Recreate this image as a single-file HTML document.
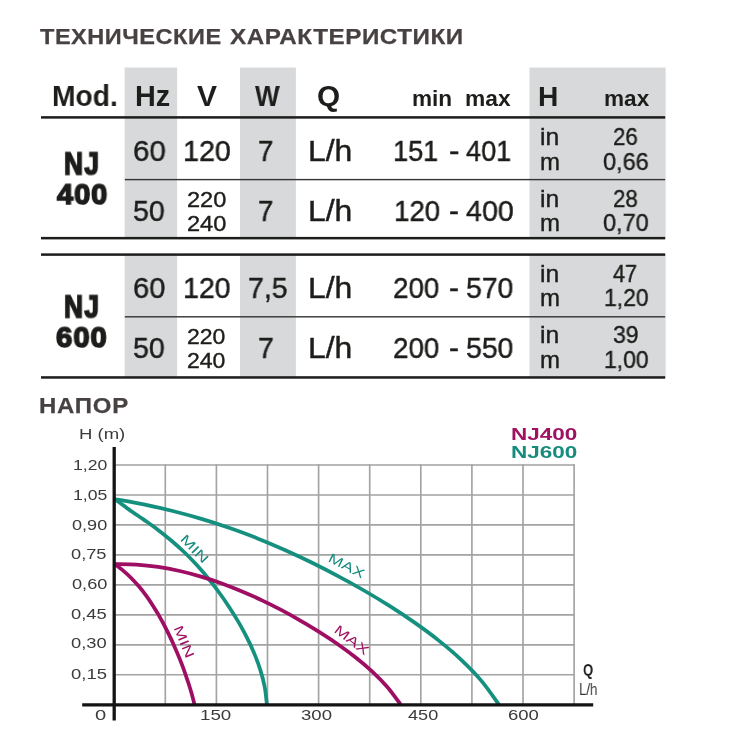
<!DOCTYPE html>
<html lang="ru">
<head>
<meta charset="utf-8">
<title>Технические характеристики</title>
<style>
html,body{margin:0;padding:0;background:#fff;}
body{width:742px;height:742px;position:relative;overflow:hidden;font-family:"Liberation Sans",sans-serif;color:#1d1d1b;}
.t{will-change:transform;position:absolute;line-height:0;white-space:nowrap;transform-origin:0 0;}
.h1{color:#474142;font-weight:bold;-webkit-text-stroke:0.25px #474142;}
.th{font-weight:bold;}
.m{font-weight:bold;-webkit-text-stroke:1.6px #1d1d1b;}
.d{-webkit-text-stroke:0.45px #1d1d1b;}
.u,.s{-webkit-text-stroke:0.4px #1d1d1b;}
.c{color:#3b3b3b;}
.k{font-weight:bold;}
.mg{color:#9f1262;}
.tl{color:#168c7f;}
.q{font-weight:bold;color:#1d1d1b;}
.l{color:#333;}
svg{position:absolute;left:0;top:0;will-change:transform;}
</style>
</head>
<body>

<!-- background graphics: table shading/rules + chart -->
<svg width="742" height="742" viewBox="0 0 742 742" font-family="Liberation Sans, sans-serif">
  <!-- table: grey columns and rules -->
  <g fill="#d8d9db">
    <rect x="124.6" y="67.5" width="52.5" height="170.5"/><rect x="240" y="67.5" width="55.9" height="170.5"/><rect x="529.5" y="67.5" width="136.1" height="170.5"/>
    <rect x="124.6" y="254.5" width="52.5" height="123"/><rect x="240" y="254.5" width="55.9" height="123"/><rect x="529.5" y="254.5" width="136.1" height="123"/>
  </g>
  <g fill="#1d1d1b">
    <rect x="41" y="116.15" width="624.2" height="2.5"/>
    <rect x="41" y="236.9" width="624.2" height="2.5"/>
    <rect x="41" y="253.35" width="624.2" height="2.5"/>
    <rect x="41" y="376.2" width="624.2" height="2.5"/>
    <rect x="124.8" y="178.9" width="540.4" height="1.4" fill="#333"/>
    <rect x="124.8" y="316.1" width="540.4" height="1.4" fill="#333"/>
  </g>
  <!-- chart -->
  <g stroke="#a3a3a3" stroke-width="1.65" fill="none">
    <path d="M114 465.0H574.9M114 495.0H574.9M114 524.9H574.9M114 554.9H574.9M114 584.8H574.9M114 614.8H574.9M114 644.8H574.9M114 674.7H574.9"/>
    <path d="M165.3 464.2V705M216.4 464.2V705M267.5 464.2V705M318.6 464.2V705M369.7 464.2V705M420.8 464.2V705M471.9 464.2V705M523.0 464.2V705M574.1 464.2V705"/>
  </g>
  <g fill="none" stroke-width="3.75" stroke-linecap="butt">
    <path stroke="#15907f" d="M114.6 499.0C119.4 499.9 134.0 502.4 143.7 504.4C153.3 506.4 163.1 508.6 172.7 511.0C182.3 513.4 191.9 516.0 201.4 518.9C210.9 521.7 220.4 524.8 229.7 528.1C239.1 531.3 248.3 534.8 257.5 538.4C266.7 542.1 275.8 545.9 284.8 550.0C293.8 554.0 302.8 558.2 311.6 562.5C320.5 566.9 329.3 571.4 338.0 576.1C346.8 580.7 355.4 585.5 364.0 590.5C372.6 595.5 381.1 600.6 389.5 605.9C397.9 611.2 406.2 616.7 414.3 622.4C422.4 628.1 430.5 633.9 438.2 640.1C445.9 646.2 453.5 652.5 460.7 659.3C467.9 666.1 474.9 673.0 481.2 680.6C487.6 688.1 496.0 700.5 498.9 704.5"/>
    <path stroke="#15907f" d="M114.6 499.0C117.0 500.7 124.0 506.0 128.8 509.4C133.6 512.9 138.5 516.0 143.4 519.4C148.2 522.8 153.0 526.1 157.7 529.7C162.4 533.2 167.0 536.9 171.5 540.7C176.0 544.5 180.3 548.4 184.6 552.5C188.8 556.6 192.9 560.8 196.8 565.1C200.8 569.5 204.6 573.9 208.3 578.5C212.1 583.0 215.6 587.7 219.1 592.5C222.6 597.2 225.9 602.1 229.1 607.0C232.3 611.9 235.4 616.9 238.4 621.9C241.3 627.0 244.2 632.2 246.8 637.4C249.5 642.6 252.0 648.0 254.2 653.4C256.5 658.8 258.6 664.3 260.3 669.9C262.1 675.6 263.6 681.3 264.7 687.0C265.8 692.8 266.5 701.6 266.9 704.5"/>
    <path stroke="#9e0e63" d="M114.6 564.1C118.2 564.2 129.1 564.1 136.4 564.6C143.6 565.1 151.0 565.9 158.2 566.9C165.4 568.0 172.6 569.4 179.8 571.0C186.9 572.6 194.0 574.5 201.0 576.6C208.0 578.6 214.9 580.9 221.8 583.4C228.6 585.9 235.4 588.6 242.1 591.4C248.8 594.2 255.5 597.2 262.0 600.4C268.6 603.5 275.1 606.8 281.6 610.2C288.0 613.6 294.4 617.1 300.7 620.8C307.1 624.4 313.3 628.2 319.5 632.1C325.7 636.0 331.8 640.0 337.8 644.2C343.8 648.4 349.7 652.7 355.4 657.3C361.1 661.8 366.7 666.5 372.0 671.4C377.4 676.4 382.5 681.5 387.3 687.0C392.1 692.6 398.4 701.6 400.6 704.5"/>
    <path stroke="#9e0e63" d="M114.6 564.1C116.1 565.2 120.6 568.4 123.4 570.8C126.2 573.1 128.9 575.6 131.4 578.2C134.0 580.8 136.4 583.5 138.8 586.3C141.1 589.0 143.4 591.9 145.6 594.9C147.7 597.8 149.8 600.8 151.8 603.9C153.8 606.9 155.7 610.1 157.6 613.2C159.4 616.4 161.2 619.6 163.0 622.8C164.7 626.1 166.4 629.3 168.0 632.6C169.6 635.9 171.2 639.2 172.7 642.5C174.2 645.9 175.7 649.2 177.1 652.6C178.5 655.9 179.9 659.3 181.2 662.7C182.5 666.1 183.8 669.5 185.0 673.0C186.2 676.4 187.4 679.8 188.5 683.3C189.6 686.8 190.7 690.3 191.7 693.8C192.7 697.3 194.0 702.7 194.5 704.5"/>
  </g>
  <path d="M114.2 447V720.5" stroke="#141414" stroke-width="3.3" fill="none"/>
  <path d="M82.2 704.8H593.2" stroke="#141414" stroke-width="3.2" fill="none"/>
  <g font-size="13.2">
    <text fill="#168c7f" transform="translate(179.4 539.8) rotate(45.7)" textLength="34.2" lengthAdjust="spacingAndGlyphs">MIN</text>
    <text fill="#168c7f" transform="translate(327.3 560.9) rotate(27.1)" textLength="38.8" lengthAdjust="spacingAndGlyphs">MAX</text>
    <text fill="#9f1262" transform="translate(173.5 627.7) rotate(67.7)" textLength="34" lengthAdjust="spacingAndGlyphs">MIN</text>
    <text fill="#9f1262" transform="translate(333.2 631.5) rotate(37.4)" textLength="39.8" lengthAdjust="spacingAndGlyphs">MAX</text>
  </g>
</svg>

<span class="t h1" style="left:39.9px;top:37px;font-size:22.4px;letter-spacing:0.5px;transform:scaleX(1.051)">ТЕХНИЧЕСКИЕ</span>
<span class="t h1" style="left:230.0px;top:37px;font-size:22.4px;letter-spacing:0.5px;transform:scaleX(1.081)">ХАРАКТЕРИСТИКИ</span>
<span class="t h1" style="left:38.7px;top:406px;font-size:22.2px;letter-spacing:0.7px;transform:scaleX(1.080)">НАПОР</span>

<!-- table text -->
<span class="t th" style="left:52.1px;top:96px;font-size:28.6px;transform:scaleX(0.987)">Mod.</span>
<span class="t th" style="left:134.7px;top:96px;font-size:28.6px;transform:scaleX(1.008)">Hz</span>
<span class="t th" style="left:196.7px;top:96px;font-size:28.6px;transform:scaleX(1.049)">V</span>
<span class="t th" style="left:255.1px;top:96px;font-size:28.6px;transform:scaleX(0.911)">W</span>
<span class="t th" style="left:317.4px;top:96px;font-size:28.6px;transform:scaleX(1.040)">Q</span>
<span class="t th" style="left:412.1px;top:99px;font-size:22.6px;transform:scaleX(1.000)">min</span>
<span class="t th" style="left:465.4px;top:99px;font-size:22.6px;transform:scaleX(1.008)">max</span>
<span class="t th" style="left:538.4px;top:96px;font-size:28.2px;transform:scaleX(0.985)">H</span>
<span class="t th" style="left:604.2px;top:99px;font-size:22.6px;transform:scaleX(0.990)">max</span>
<span class="t m" style="left:64.1px;top:164px;font-size:30px;letter-spacing:1.5px;transform-origin:0 11px;transform:scale(0.877,1.020)">NJ</span>
<span class="t m" style="left:56.6px;top:194px;font-size:30px;letter-spacing:1px;transform-origin:0 11px;transform:scale(0.968,0.985)">400</span>
<span class="t d" style="left:132.5px;top:151px;font-size:30px;transform:scaleX(0.982)">60</span>
<span class="t d" style="left:182.8px;top:151px;font-size:30px;transform:scaleX(0.957)">120</span>
<span class="t d" style="left:258.1px;top:151px;font-size:30px;transform:scaleX(0.919)">7</span>
<span class="t d" style="left:308.2px;top:151px;font-size:30px;transform:scaleX(1.063)">L/h</span>
<span class="t d" style="left:393.1px;top:151px;font-size:30px;transform:scaleX(0.904)">151</span>
<span class="t d" style="left:448.6px;top:151px;font-size:30px;transform:scaleX(1.050)">-</span>
<span class="t d" style="left:466.0px;top:151px;font-size:30px;transform:scaleX(0.905)">401</span>
<span class="t u" style="left:539.8px;top:137px;font-size:24px;transform:scaleX(1.028)">in</span>
<span class="t u" style="left:539.8px;top:162px;font-size:24px;transform:scaleX(0.989)">m</span>
<span class="t u" style="left:612.8px;top:137px;font-size:24px;transform:scaleX(0.932)">26</span>
<span class="t u" style="left:603.3px;top:162px;font-size:24px;transform:scaleX(0.981)">0,66</span>
<span class="t d" style="left:133.1px;top:211px;font-size:30px;transform:scaleX(0.949)">50</span>
<span class="t s" style="left:186.7px;top:199px;font-size:22.8px;transform:scaleX(1.034)">220</span>
<span class="t s" style="left:186.7px;top:223px;font-size:22.8px;transform:scaleX(1.034)">240</span>
<span class="t d" style="left:258.1px;top:211px;font-size:30px;transform:scaleX(0.919)">7</span>
<span class="t d" style="left:308.2px;top:211px;font-size:30px;transform:scaleX(1.063)">L/h</span>
<span class="t d" style="left:393.6px;top:211px;font-size:30px;transform:scaleX(0.923)">120</span>
<span class="t d" style="left:449.2px;top:211px;font-size:30px;transform:scaleX(1.000)">-</span>
<span class="t d" style="left:465.9px;top:211px;font-size:30px;transform:scaleX(0.957)">400</span>
<span class="t u" style="left:539.8px;top:199px;font-size:24px;transform:scaleX(1.028)">in</span>
<span class="t u" style="left:539.8px;top:223px;font-size:24px;transform:scaleX(0.989)">m</span>
<span class="t u" style="left:612.8px;top:199px;font-size:24px;transform:scaleX(0.932)">28</span>
<span class="t u" style="left:603.3px;top:223px;font-size:24px;transform:scaleX(0.981)">0,70</span>
<span class="t m" style="left:64.1px;top:307px;font-size:30px;letter-spacing:1.5px;transform-origin:0 11px;transform:scale(0.877,1.020)">NJ</span>
<span class="t m" style="left:56.2px;top:337px;font-size:30px;letter-spacing:1px;transform-origin:0 11px;transform:scale(0.977,0.985)">600</span>
<span class="t d" style="left:132.7px;top:288px;font-size:30px;transform:scaleX(0.970)">60</span>
<span class="t d" style="left:182.8px;top:288px;font-size:30px;transform:scaleX(0.952)">120</span>
<span class="t d" style="left:247.5px;top:288px;font-size:30px;transform:scaleX(0.949)">7,5</span>
<span class="t d" style="left:308.2px;top:288px;font-size:30px;transform:scaleX(1.063)">L/h</span>
<span class="t d" style="left:393.4px;top:288px;font-size:30px;transform:scaleX(0.927)">200</span>
<span class="t d" style="left:449.2px;top:288px;font-size:30px;transform:scaleX(1.000)">-</span>
<span class="t d" style="left:466.4px;top:288px;font-size:30px;transform:scaleX(0.947)">570</span>
<span class="t u" style="left:540.0px;top:274px;font-size:24px;transform:scaleX(1.028)">in</span>
<span class="t u" style="left:540.0px;top:298px;font-size:24px;transform:scaleX(0.989)">m</span>
<span class="t u" style="left:613.1px;top:274px;font-size:24px;transform:scaleX(0.902)">47</span>
<span class="t u" style="left:603.8px;top:298px;font-size:24px;transform:scaleX(0.957)">1,20</span>
<span class="t d" style="left:133.1px;top:348px;font-size:30px;transform:scaleX(0.949)">50</span>
<span class="t s" style="left:187.1px;top:336px;font-size:22.8px;transform:scaleX(1.010)">220</span>
<span class="t s" style="left:187.1px;top:360px;font-size:22.8px;transform:scaleX(1.010)">240</span>
<span class="t d" style="left:257.9px;top:348px;font-size:30px;transform:scaleX(0.947)">7</span>
<span class="t d" style="left:308.2px;top:348px;font-size:30px;transform:scaleX(1.063)">L/h</span>
<span class="t d" style="left:393.4px;top:348px;font-size:30px;transform:scaleX(0.927)">200</span>
<span class="t d" style="left:449.2px;top:348px;font-size:30px;transform:scaleX(1.000)">-</span>
<span class="t d" style="left:466.4px;top:348px;font-size:30px;transform:scaleX(0.947)">550</span>
<span class="t u" style="left:540.0px;top:335px;font-size:24px;transform:scaleX(1.028)">in</span>
<span class="t u" style="left:540.0px;top:360px;font-size:24px;transform:scaleX(0.989)">m</span>
<span class="t u" style="left:612.6px;top:335px;font-size:24px;transform:scaleX(0.960)">39</span>
<span class="t u" style="left:603.8px;top:360px;font-size:24px;transform:scaleX(0.957)">1,00</span>



<!-- chart text -->
<span class="t c" style="left:78.7px;top:434px;font-size:14px;transform:scaleX(1.323)">H (m)</span>
<span class="t c" style="left:72.7px;top:465px;font-size:14px;transform:scaleX(1.258)">1,20</span>
<span class="t c" style="left:72.7px;top:495px;font-size:14px;transform:scaleX(1.258)">1,05</span>
<span class="t c" style="left:71.9px;top:525px;font-size:14px;transform:scaleX(1.291)">0,90</span>
<span class="t c" style="left:71.3px;top:554px;font-size:14px;transform:scaleX(1.303)">0,75</span>
<span class="t c" style="left:71.7px;top:584px;font-size:14px;transform:scaleX(1.299)">0,60</span>
<span class="t c" style="left:71.3px;top:614px;font-size:14px;transform:scaleX(1.310)">0,45</span>
<span class="t c" style="left:71.3px;top:643px;font-size:14px;transform:scaleX(1.310)">0,30</span>
<span class="t c" style="left:70.9px;top:674px;font-size:14px;transform:scaleX(1.318)">0,15</span>
<span class="t c" style="left:94.9px;top:715px;font-size:14px;transform:scaleX(1.437)">0</span>
<span class="t c" style="left:200.2px;top:715px;font-size:14px;transform:scaleX(1.338)">150</span>
<span class="t c" style="left:301.3px;top:715px;font-size:14px;transform:scaleX(1.326)">300</span>
<span class="t c" style="left:408.2px;top:715px;font-size:14px;transform:scaleX(1.293)">450</span>
<span class="t c" style="left:508.4px;top:715px;font-size:14px;transform:scaleX(1.323)">600</span>
<span class="t k mg" style="left:510.9px;top:434px;font-size:16.3px;transform:scaleX(1.383)">NJ400</span>
<span class="t k tl" style="left:510.9px;top:452px;font-size:16.3px;transform:scaleX(1.383)">NJ600</span>
<span class="t q" style="left:583.4px;top:671px;font-size:16px;transform:scaleX(0.818)">Q</span>
<span class="t l" style="left:578.8px;top:689px;font-size:16.2px;transform:scaleX(0.820)">L/h</span>

</body>
</html>
